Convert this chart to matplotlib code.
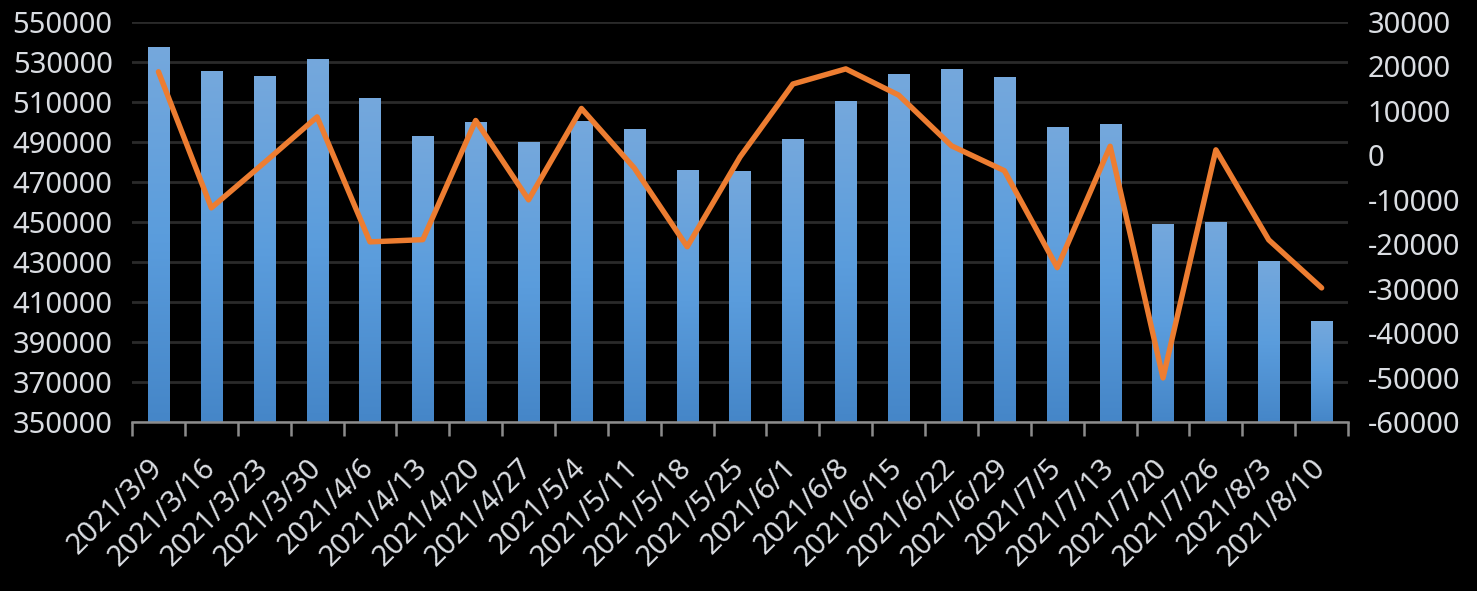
import numpy as np
import matplotlib.pyplot as plt
from matplotlib.colors import LinearSegmentedColormap

dates = ["2021/3/9", "2021/3/16", "2021/3/23", "2021/3/30", "2021/4/6", "2021/4/13",
         "2021/4/20", "2021/4/27", "2021/5/4", "2021/5/11", "2021/5/18", "2021/5/25",
         "2021/6/1", "2021/6/8", "2021/6/15", "2021/6/22", "2021/6/29", "2021/7/5",
         "2021/7/13", "2021/7/20", "2021/7/26", "2021/8/3", "2021/8/10"]
totals = [537500, 525500, 523000, 531500, 512000, 493000, 500000, 490000, 500500,
          496500, 476000, 475500, 491500, 510500, 524000, 526500, 522500, 497500,
          499000, 449000, 450000, 430500, 400500]
changes = [18750, -11850, -1700, 8600, -19500, -19000, 7800, -10050, 10500, -2900,
           -20600, -400, 16000, 19400, 13500, 2100, -3500, -25300, 2000, -50100,
           1200, -19050, -29850]

plt.rcParams['font.family'] = ['Noto Sans', 'DejaVu Sans']
plt.rcParams['axes.unicode_minus'] = False
txt = '#dadde2'

fig = plt.figure(figsize=(14.77, 5.91), dpi=100, facecolor='black')
ax = fig.add_axes([0.0894, 0.286, 0.8233, 0.6772])
ax.set_facecolor('black')
x = np.arange(len(dates))

# bars with a vertical gradient, like the original
bars = ax.bar(x, totals, width=0.4, color='none', zorder=2)
grad = np.linspace(0, 1, 256).reshape(-1, 1)
cmap = LinearSegmentedColormap.from_list('b', ['#4586c8', '#5b9ddd', '#75a8dc'])
for b in bars:
    x0, w, h = b.get_x(), b.get_width(), b.get_height()
    im = ax.imshow(grad, extent=[x0, x0 + w, 350000, h], origin='lower', cmap=cmap,
                   aspect='auto', zorder=2)
    im.set_clip_path(b)

ax.set_xlim(-0.5, len(dates) - 0.5)
ax.set_ylim(350000, 550000)
ax.set_yticks(np.arange(350000, 550001, 20000))
ax.yaxis.grid(True, color='#2a2a2a', lw=2)
ax.set_axisbelow(True)
for s in ['top', 'left', 'right']:
    ax.spines[s].set_visible(False)
ax.spines['bottom'].set_color('#8c8c8c')
ax.spines['bottom'].set_linewidth(1.8)
ax.spines['bottom'].set_zorder(3)
ax.tick_params(axis='y', length=0, pad=14, labelsize=21, labelcolor=txt)

ax.set_xticks(x)
ax.set_xticklabels(dates, rotation=45, ha='right', va='center', rotation_mode='anchor',
                   fontsize=21, color=txt)
ax.tick_params(axis='x', length=0, pad=30)
ax.set_xticks(np.arange(-0.5, len(dates)), minor=True)
ax.tick_params(axis='x', which='minor', length=10, width=1.8, color='#8c8c8c')

ax2 = ax.twinx()
ax2.plot(x, changes, color='#ed7d31', lw=3.9, solid_joinstyle='round',
         solid_capstyle='round', zorder=4)
ax2.set_ylim(-60000, 30000)
ax2.set_yticks(np.arange(-60000, 30001, 10000))
for s in ['top', 'left', 'right', 'bottom']:
    ax2.spines[s].set_visible(False)
ax2.tick_params(axis='y', length=0, pad=14, labelsize=21, labelcolor=txt)

fig.savefig('out.png', dpi=100, facecolor='black')
